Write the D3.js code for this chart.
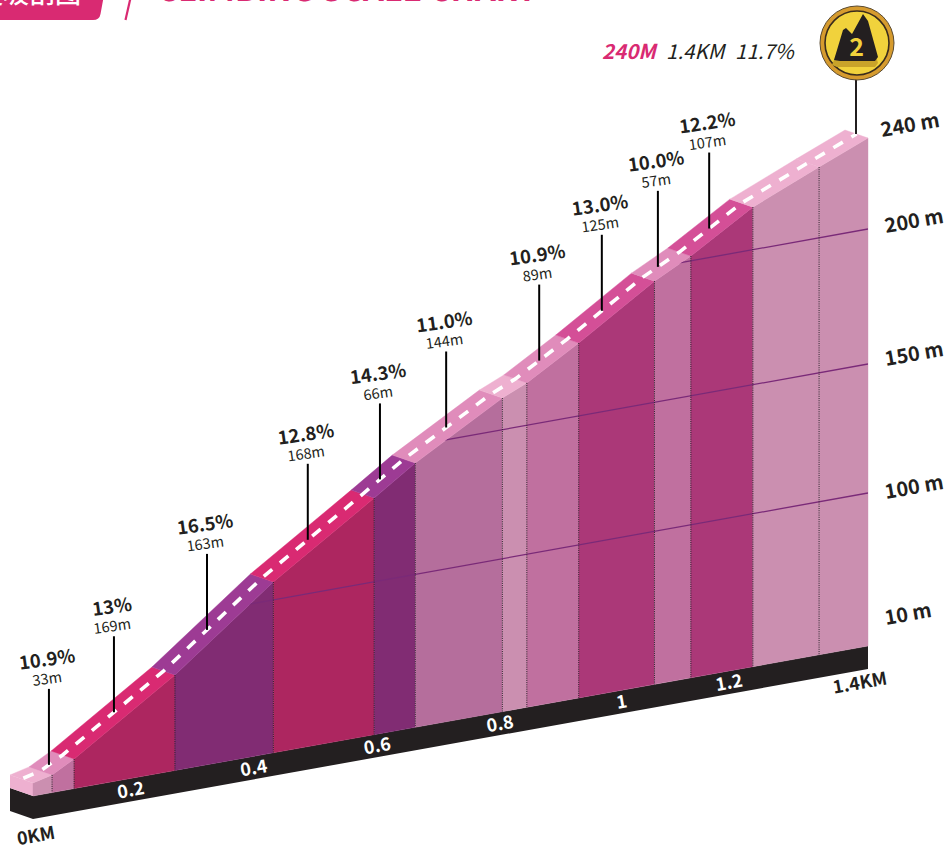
<!DOCTYPE html>
<html>
<head>
<meta charset="utf-8">
<script src="https://cdn.jsdelivr.net/npm/d3@7"></script>
<style>
  html, body { margin: 0; padding: 0; background: #fff; }
  svg { display: block; }
  text { font-family: "Noto Sans CJK SC", "Noto Sans", sans-serif; fill: #231f20; }
</style>
</head>
<body>
<svg id="chart" width="948" height="848"></svg>
<script>
// profile stops
const stopKm = [0, 0.032, 0.069, 0.238, 0.403, 0.572, 0.641, 0.787, 0.828, 0.915, 1.042, 1.103, 1.207, 1.318, 1.4];
const stopElev = [10, 13, 20.7, 63, 106.9, 132.4, 143.1, 161.7, 165.7, 177, 194.9, 202.1, 218.7, 231.1, 240];
// colour class of each segment between two stops
const segClass = ["pale", "soft", "hot", "violet", "hot", "violet", "dusk", "pale", "soft", "rose", "soft", "rose", "pale", "pale"];
// which stops get a dotted line on the wall
const dottedKm = [0.032, 0.069, 0.238, 0.403, 0.572, 0.641, 0.787, 0.828, 0.915, 1.042, 1.103, 1.207, 1.318];

// callouts
const calloutKm = [0.046, 0.155, 0.311, 0.480, 0.601, 0.712, 0.868, 0.973, 1.067, 1.153];
const calloutPct = ["10.9%", "13%", "16.5%", "12.8%", "14.3%", "11.0%", "10.9%", "13.0%", "10.0%", "12.2%"];
const calloutLen = ["33m", "169m", "163m", "168m", "66m", "144m", "89m", "125m", "57m", "107m"];

// axis labels
const kmTickPos = [0.164, 0.37, 0.577, 0.783, 0.987, 1.167];
const kmTickText = ["0.2", "0.4", "0.6", "0.8", "1", "1.2"];
const elevTicks = [240, 200, 150, 100, 10];
const elevGrid = [100, 150, 200];

const svg = d3.select("#chart");

// Scales
const x = d3.scaleLinear().domain([0, 1.4]).range([33, 868]);
const baseY = d3.scaleLinear().domain([0, 1.4]).range([796, 646]);
// the elevation axis of the drawing is not even, so it is piecewise
const elev = d3.scaleLinear().domain([10, 100, 150, 200, 240]).range([13, 153, 282, 417, 508]);
const roadColor = d3.scaleOrdinal()
  .domain(["pale", "soft", "dusk", "hot", "violet", "rose"])
  .range(["#eeb0d0", "#e08cbb", "#e08cbb", "#d92a72", "#9d3b94", "#d44f97"]);
const wallColor = d3.scaleOrdinal()
  .domain(["pale", "soft", "dusk", "hot", "violet", "rose"])
  .range(["#cb8fb0", "#c0709f", "#b56e9c", "#ad2660", "#812c73", "#ab3878"]);

const band = 23;            // height of the black band
const depth = [-23, -8];    // how far the road goes back

const frontY = d3.scaleLinear().domain(stopKm).range(stopKm.map((k, i) => baseY(k) - elev(stopElev[i])));

const poly = d3.line();
const segs = segClass.map((c, i) => ({ c: c, a: stopKm[i], b: stopKm[i + 1] }));

// Black band
const bandPts = [[x(0), baseY(0)], [x(1.4), baseY(1.4)], [x(1.4), baseY(1.4) + band], [x(0), baseY(0) + band]];
svg.append("path").attr("d", poly(bandPts) + "Z").attr("fill", "#231f20");
svg.append("path")
  .attr("d", poly([[x(0), baseY(0)], [x(0) + depth[0], baseY(0) + depth[1]], [x(0) + depth[0], baseY(0) + depth[1] + band], [x(0), baseY(0) + band]]) + "Z")
  .attr("fill", "#231f20");

// Left end of the road
svg.append("path")
  .attr("d", poly([[x(0), frontY(0)], [x(0) + depth[0], frontY(0) + depth[1]], [x(0) + depth[0], baseY(0) + depth[1]], [x(0), baseY(0)]]) + "Z")
  .attr("fill", roadColor("pale"));

// Walls
svg.append("g").selectAll("path").data(segs).enter().append("path")
  .attr("d", d => poly([[x(d.a), frontY(d.a)], [x(d.b), frontY(d.b)], [x(d.b), baseY(d.b)], [x(d.a), baseY(d.a)]]) + "Z")
  .attr("fill", d => wallColor(d.c))
  .attr("stroke", d => wallColor(d.c))
  .attr("stroke-width", 0.4);

// Road surface
svg.append("g").selectAll("path").data(segs).enter().append("path")
  .attr("d", d => poly([[x(d.a), frontY(d.a)], [x(d.b), frontY(d.b)], [x(d.b) + depth[0], frontY(d.b) + depth[1]], [x(d.a) + depth[0], frontY(d.a) + depth[1]]]) + "Z")
  .attr("fill", d => roadColor(d.c))
  .attr("stroke", d => roadColor(d.c))
  .attr("stroke-width", 0.4);

// Grid lines only show on the wall
svg.append("clipPath").attr("id", "wallClip").append("path")
  .attr("d", poly(stopKm.map(k => [x(k), frontY(k)]).concat([[x(1.4), baseY(1.4)], [x(0), baseY(0)]])) + "Z");

svg.append("g").attr("clip-path", "url(#wallClip)").selectAll("line").data(elevGrid).enter().append("line")
  .attr("x1", x(0)).attr("x2", x(1.4))
  .attr("y1", d => baseY(0) - elev(d)).attr("y2", d => baseY(1.4) - elev(d))
  .attr("stroke", "#7a2a78").attr("stroke-width", 1.3);

// Dotted dividers
svg.append("g").selectAll("line").data(dottedKm).enter().append("line")
  .attr("x1", d => x(d)).attr("x2", d => x(d))
  .attr("y1", d => frontY(d)).attr("y2", d => baseY(d))
  .attr("stroke", "#2a2028").attr("stroke-width", 1).attr("stroke-dasharray", "1 1.2");

// Centre line
svg.append("path")
  .attr("d", poly(stopKm.map(k => [x(k) + depth[0] / 2, frontY(k) + depth[1] / 2])))
  .attr("fill", "none").attr("stroke", "#fff").attr("stroke-width", 3.6)
  .attr("stroke-dasharray", "11 10").attr("stroke-dashoffset", -2);

// Callouts
const stem = 76;
const callouts = svg.append("g").selectAll("g").data(calloutKm).enter().append("g")
  .attr("transform", d => `translate(${x(d) + depth[0] / 2},${frontY(d) + depth[1] / 2})`);

callouts.append("line")
  .attr("y1", 0).attr("y2", -stem)
  .attr("stroke", "#000").attr("stroke-width", 2);

callouts.append("text")
  .attr("transform", `translate(-1,${-stem - 23}) rotate(-8)`)
  .attr("text-anchor", "middle")
  .style("font-size", "18.5px").style("font-weight", 700)
  .text((d, i) => calloutPct[i]);

callouts.append("text")
  .attr("transform", `translate(-1,${-stem - 5}) rotate(-8)`)
  .attr("text-anchor", "middle")
  .style("font-size", "14.5px").style("font-weight", 400)
  .text((d, i) => calloutLen[i]);

// KM labels on the band
svg.append("g").selectAll("text").data(kmTickPos).enter().append("text")
  .attr("transform", d => `translate(${x(d)},${baseY(d) + band / 2}) rotate(-10)`)
  .attr("text-anchor", "middle").attr("dy", "0.36em")
  .style("font-size", "18px").style("font-weight", 700)
  .style("fill", "#fff")
  .text((d, i) => kmTickText[i]);

svg.append("text")
  .attr("transform", `translate(${x(0) + 4},${baseY(0) + band + 23}) rotate(-10)`)
  .attr("text-anchor", "middle")
  .style("font-size", "18px").style("font-weight", 700)
  .text("0KM");

svg.append("text")
  .attr("transform", `translate(${x(1.4) - 7},${baseY(1.4) + band + 20}) rotate(-10)`)
  .attr("text-anchor", "middle")
  .style("font-size", "18px").style("font-weight", 700)
  .text("1.4KM");

// Elevation labels, they sit near the grid lines carried past the wall
const labelKm = x.invert(914);
const labelNudge = { 240: [-4, -5], 200: [0, 0], 150: [0, -2], 100: [0, 2], 10: [-6, -11] };
svg.append("g").selectAll("text").data(elevTicks).enter().append("text")
  .attr("transform", d => `translate(${914 + labelNudge[d][0]},${baseY(labelKm) - elev(d) + labelNudge[d][1]}) rotate(-10)`)
  .attr("text-anchor", "middle").attr("dy", "0.36em")
  .style("font-size", "20px").style("font-weight", 700)
  .text(d => d + " m");

// Summary line
const summary = svg.append("g").style("font-size", "20.5px").style("font-style", "italic");
summary.append("text").attr("x", 602).attr("y", 59).style("font-weight", 700).style("fill", "#d92a72").text("240M");
summary.append("text").attr("x", 666).attr("y", 59).text("1.4KM");
summary.append("text").attr("x", 735).attr("y", 59).text("11.7%");

// Summit badge
const cx = 857, cy = 43;
svg.append("line").attr("x1", cx - 1).attr("x2", cx - 1).attr("y1", cy + 36).attr("y2", frontY(1.4) + depth[1] / 2)
  .attr("stroke", "#231f20").attr("stroke-width", 2);
const badge = svg.append("g").attr("transform", `translate(${cx},${cy})`);
badge.append("circle").attr("r", 37).attr("fill", "#d69b2e").attr("stroke", "#5a4a30").attr("stroke-width", 1);
badge.append("circle").attr("r", 32).attr("fill", "#f1d23c").attr("stroke", "#3a2c1c").attr("stroke-width", 1.6);
badge.append("path")
  .attr("d", "M-25,19 L-14,-10 L-11,-12 L-6,-6 L5,-26 L10,-21 L21,17 L18,21 L-20,21 Z")
  .attr("transform", "translate(0,3)").attr("fill", "#c9a32a");
badge.append("path")
  .attr("d", "M-23,17 L-14,-13 L-11,-15 L-5,-9 L6,-29 L11,-22 L21,14 L18,18 L-17,18 Z")
  .attr("fill", "#231f20");
badge.append("text").attr("y", 13).attr("x", -0.5).attr("text-anchor", "middle")
  .style("font-size", "25px").style("font-weight", 700).style("fill", "#f1d23c").text("2");

// Header, cut off by the top of the page
svg.append("path").attr("d", "M-2,-5 L104,-5 L100.5,14 Q99.5,20 93,20 L-2,20 Z").attr("fill", "#d92a72");
svg.append("text").attr("x", 81).attr("y", 3).attr("text-anchor", "end")
  .style("font-size", "26px").style("font-weight", 500).style("fill", "#fff").text("爬坡剖图");
svg.append("line").attr("x1", 130.5).attr("y1", -2).attr("x2", 125.5).attr("y2", 20)
  .attr("stroke", "#d92a72").attr("stroke-width", 2.2);
svg.append("text").attr("x", 157).attr("y", 1)
  .attr("textLength", 380).attr("lengthAdjust", "spacingAndGlyphs")
  .style("font-size", "33px").style("font-weight", 700).style("font-style", "italic").style("fill", "#d92a72")
  .text("CLIMBING SCALE CHART");
</script>
</body>
</html>
